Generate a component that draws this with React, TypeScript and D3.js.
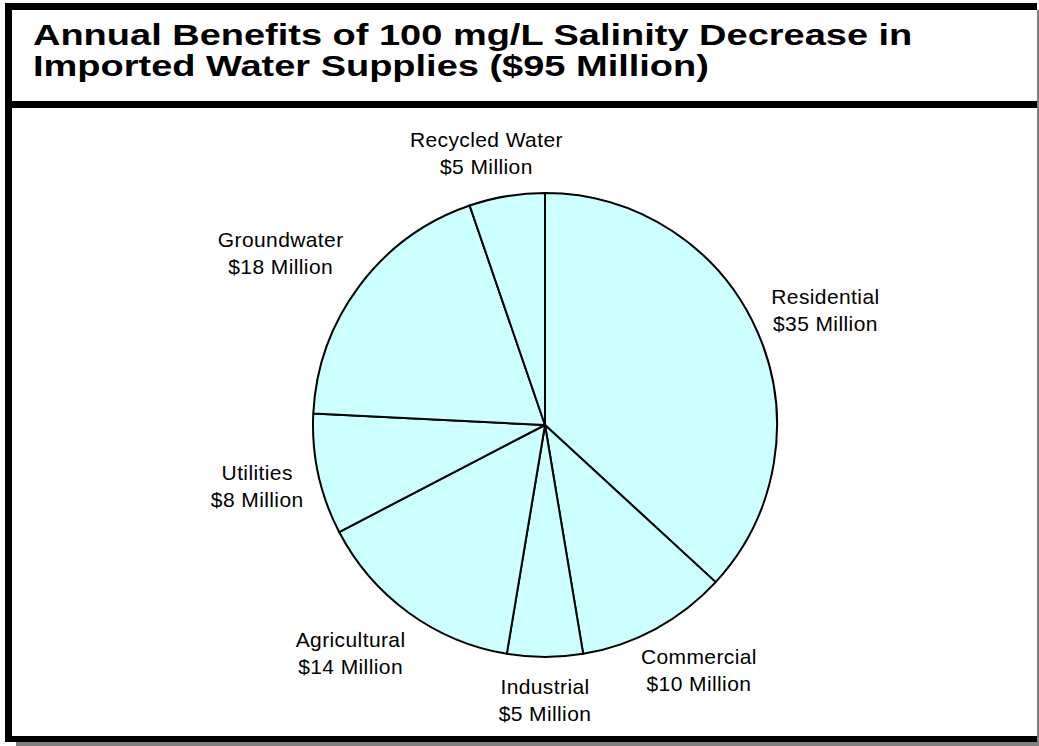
import * as d3 from 'd3';

const categories = ['Residential', 'Commercial', 'Industrial', 'Agricultural', 'Utilities', 'Groundwater', 'Recycled Water'];
const values = [35, 10, 5, 14, 8, 18, 5];
const valueLabels = ['$35 Million', '$10 Million', '$5 Million', '$14 Million', '$8 Million', '$18 Million', '$5 Million'];
const titleLines = ['Annual Benefits of 100 mg/L Salinity Decrease in', 'Imported Water Supplies ($95 Million)'];

const W = 1039;
const H = 746;
const cx = 545;
const cy = 425;
const radius = 232;
const fontSize = 21;
const lineGap = 27;

type Slice = { name: string; value: number; label: string };

// rough width of a label line in Arial at fontSize
const textWidth = (s: string) => {
  const narrow = 'il.tfjI ';
  let w = 0;
  for (const ch of s) {
    if (narrow.includes(ch)) w += 0.25;
    else if (ch === 'M' || ch === 'W' || ch === 'w') w += 0.86;
    else if ('RGCDUAO'.includes(ch)) w += 0.74;
    else w += 0.556;
  }
  return w * fontSize;
};

const clamp = (v: number) => Math.max(-1, Math.min(1, v));

const App = () => {
  const data: Slice[] = categories.map((c, i) => ({ name: c, value: values[i], label: valueLabels[i] }));
  const pie = d3.pie<Slice>().value((d) => d.value).sort(null);
  const arcs = pie(data);
  const arc = d3.arc<d3.PieArcDatum<Slice>>().innerRadius(0).outerRadius(radius);

  const labelR = radius + 16;

  return (
    <div style={{ position: 'absolute', left: 0, top: 0 }}>
      <svg width={W} height={H} style={{ display: 'block' }}>
        <rect x={0} y={0} width={W} height={H} fill="white" />
        {/* drop shadow */}
        <rect x={1037} y={10} width={2} height={H - 10} fill="#808080" />
        <rect x={16} y={742} width={W - 16} height={4} fill="#808080" />
        {/* frame */}
        <rect x={5} y={3} width={1032} height={7} fill="black" />
        <rect x={5} y={3} width={7} height={739} fill="black" />
        <rect x={5} y={736} width={1032} height={6} fill="black" />
        <rect x={5} y={101} width={1032} height={7} fill="black" />

        <g
          transform="translate(33,0) scale(1.31,1)"
          fontFamily="'Liberation Sans', Arial, sans-serif"
          fontWeight="bold"
          fontSize={29}
          fill="black"
        >
          {titleLines.map((t, i) => (
            <text key={i} x={0} y={45 + i * 31}>
              {t}
            </text>
          ))}
        </g>

        <g transform={`translate(${cx},${cy})`}>
          {arcs.map((a, i) => (
            <path key={i} d={arc(a) ?? ''} fill="#CCFFFF" stroke="black" strokeWidth={2} strokeLinejoin="round" />
          ))}
          {arcs.map((a, i) => {
            const mid = (a.startAngle + a.endAngle) / 2;
            const sx = Math.sin(mid);
            const sy = -Math.cos(mid);
            const w = Math.max(textWidth(a.data.name), textWidth(a.data.label));
            const h = lineGap * 2;
            const px = labelR * sx + (clamp(sx * 1.4) * w) / 2;
            const py = labelR * sy + (clamp(sy * 1.4) * h) / 2;
            return (
              <text
                key={'l' + i}
                x={px}
                y={py - 6}
                textAnchor="middle"
                fontFamily="'Liberation Sans', Arial, sans-serif"
                fontSize={fontSize}
                letterSpacing={0.4}
                fill="black"
              >
                <tspan x={px}>{a.data.name}</tspan>
                <tspan x={px} dy={lineGap}>
                  {a.data.label}
                </tspan>
              </text>
            );
          })}
        </g>
      </svg>
    </div>
  );
};

export default App;
